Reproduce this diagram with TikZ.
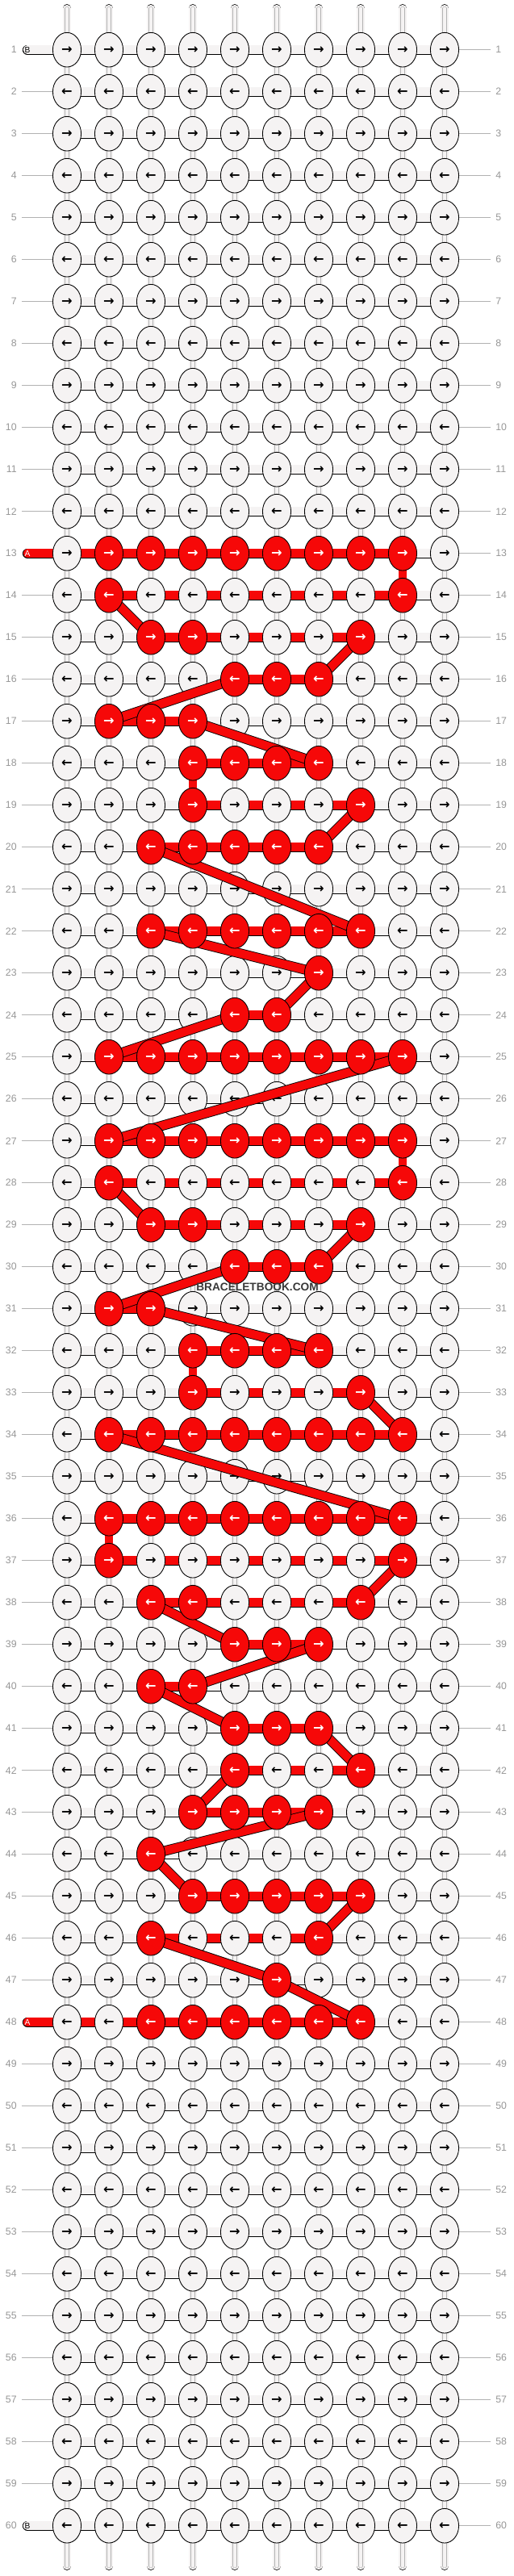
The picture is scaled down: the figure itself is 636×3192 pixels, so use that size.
\documentclass[tikz,border=0pt]{standalone}
\usepackage{fontspec}
\setmainfont{Liberation Sans}
\newfontfamily\arrowfont{DejaVu Sans}
\usetikzlibrary{shapes.geometric,backgrounds}

\pgfdeclarelayer{thread}
\pgfdeclarelayer{front}
\pgfsetlayers{background,main,thread,front}

\definecolor{knotred}{RGB}{246,8,8}
\definecolor{knotwhite}{RGB}{245,243,243}
\definecolor{rulegray}{RGB}{178,178,178}
\definecolor{numgray}{RGB}{150,150,150}

% red knots: row/first/last
\def\RedKnots{13/2/9,14/2/2,14/9/9,15/3/4,15/8/8,16/5/7,17/2/4,18/4/7,19/4/4,19/8/8,20/3/7,22/3/8,23/7/7,24/5/6,25/2/9,27/2/9,28/2/2,28/9/9,29/3/4,29/8/8,30/5/7,31/2/3,32/4/7,33/4/4,33/8/8,34/2/9,36/2/9,37/2/2,37/9/9,38/3/4,38/8/8,39/5/7,40/3/4,41/5/7,42/5/5,42/8/8,43/4/7,44/3/3,45/4/8,46/3/3,46/7/7,47/6/6,48/3/8}
% red links between knot c and c+1: row/first/last
\def\RedLinks{13/1/8,14/2/8,15/3/7,16/5/6,17/2/3,18/4/6,19/4/7,20/3/6,22/3/7,24/5/5,25/2/8,27/2/8,28/2/8,29/3/7,30/5/6,31/2/2,32/4/6,33/4/7,34/2/8,36/2/8,37/2/8,38/3/7,39/5/6,40/3/3,41/5/6,42/5/7,43/4/6,45/4/7,46/3/6,48/1/7}
% red links down to the next row: row/column
\def\RedDrops{13/9,18/4,27/9,32/4,36/2}
% red thread jumping between rows: row/col/row/col
\def\RedBars{14/2/15/3,15/8/16/7,16/5/17/2,17/4/18/7,19/8/20/7,20/3/22/8,22/3/23/7,23/7/24/6,24/5/25/2,25/9/27/2,28/2/29/3,29/8/30/7,30/5/31/2,31/3/32/7,33/8/34/9,34/2/36/9,37/9/38/8,38/3/39/5,39/7/40/4,40/3/41/5,41/7/42/8,42/5/43/4,43/7/44/3,44/3/45/4,45/8/46/7,46/3/47/6,47/6/48/8}

\foreach \r/\a/\b in \RedKnots {\foreach \c in {\a,...,\b} {\expandafter\gdef\csname redknot-\r-\c\endcsname{}}}

\tikzset{
    knot/.style={ellipse, draw, line width=0.5pt, fill=knotwhite, inner sep=0pt,
        minimum width=20pt, minimum height=24.3pt, font=\arrowfont\bfseries\fontsize{9.2}{9.2}\selectfont},
    redknot/.style={knot, fill=knotred, text=white},
    link/.style={line width=0.5pt, double=knotwhite, double distance=6pt},
    redlink/.style={link, double=knotred},
    drop/.style={line width=0.5pt, double=knotwhite, double distance=5.2pt,
        postaction={draw=rulegray, line width=0.3pt, double=knotwhite, double distance=2.4pt}},
    reddrop/.style={line width=0.5pt, double=knotred, double distance=5.2pt},
    tail/.style={drop, line cap=round},
    bar/.style={line width=0.5pt, double=knotred, double distance=6pt},
    num/.style={inner sep=0pt, text=numgray, font=\fontsize{7}{7}\selectfont},
    rule/.style={draw=rulegray, line width=0.5pt},
    tabtext/.style={inner sep=0pt, font=\fontsize{5.8}{6}\selectfont},
    wmark/.style={inner sep=0pt, text=black!78, font=\bfseries\fontsize{7.8}{8}\selectfont}
}

\begin{document}
\begin{tikzpicture}[x=0.02cm, y=-0.02cm]
    \useasboundingbox (0,0) rectangle (636,3192);
    % knots, the red ones on the front layer
    \foreach \r in {1,...,60} {
        \ifodd\r \def\arr{→}\else \def\arr{←}\fi
        \foreach \c in {1,...,10} {
            \ifcsname redknot-\r-\c\endcsname
                \begin{pgfonlayer}{front}
                    \node[redknot] (k-\r-\c) at ({83+52*(\c-1)}, {61.7+52*(\r-1)}) {\arr};
                \end{pgfonlayer}
            \else
                \node[knot] (k-\r-\c) at ({83+52*(\c-1)}, {61.7+52*(\r-1)}) {\arr};
            \fi
        }
        \node[num, anchor=east] (nl-\r) at (21, {61.7+52*(\r-1)}) {\r};
        \node[num, anchor=west] (nr-\r) at (614, {61.7+52*(\r-1)}) {\r};
    }
    \begin{pgfonlayer}{background}
        % links along the rows
        \foreach \r in {1,...,60} {
            \foreach \c [count=\n from 2] in {1,...,9} {
                \draw[link] (k-\r-\c.center) -- (k-\r-\n.center);
            }
        }
        \foreach \r/\a/\b in \RedLinks {
            \foreach \c in {\a,...,\b} {
                \pgfmathtruncatemacro\n{\c+1}
                \draw[redlink] (k-\r-\c.center) -- (k-\r-\n.center);
            }
        }
        % links down the columns
        \foreach \r [count=\n from 2] in {1,...,59} {
            \foreach \c in {1,...,10} {
                \draw[drop] (k-\r-\c.center) -- (k-\n-\c.center);
            }
        }
        \foreach \r/\c in \RedDrops {
            \pgfmathtruncatemacro\n{\r+1}
            \draw[reddrop] (k-\r-\c.center) -- (k-\n-\c.center);
        }
        % loose ends
        \foreach \c in {1,...,10} {
            \coordinate (top-\c) at ({83+52*(\c-1)}, 10.5);
            \coordinate (bot-\c) at ({83+52*(\c-1)}, 3179.5);
            \draw[tail] (top-\c) -- (k-1-\c.center);
            \draw[tail] (bot-\c) -- (k-60-\c.center);
        }
        % row rules
        \foreach \r in {1,...,60} {
            \draw[rule, shorten >=3.5pt] (k-\r-10.east) -- (nr-\r.west);
        }
        \foreach \r in {2,...,12,14,15,...,47,49,50,...,59} {
            \draw[rule, shorten <=3.3pt] (nl-\r.east) -- (k-\r-1.west);
        }
        % thread tabs
        \foreach \r/\l/\f/\t in {1/B/knotwhite/black,60/B/knotwhite/black,13/A/knotred/white,48/A/knotred/white} {
            \coordinate (tab-\r) at (34, {61.7+52*(\r-1)});
            \draw[link, double=\f, line cap=round] (tab-\r) -- (k-\r-1.center);
            \node[tabtext, text=\t] (tl-\r) at (34, {61.7+52*(\r-1)}) {\l};
        }
    \end{pgfonlayer}
    % red thread between rows
    \begin{pgfonlayer}{thread}
        \foreach \ra/\ca/\rb/\cb in \RedBars {
            \draw[bar] (k-\ra-\ca.center) -- (k-\rb-\cb.center);
        }
    \end{pgfonlayer}
    \begin{pgfonlayer}{front}
        \node[wmark] (site) at (319,1595) {BRACELETBOOK.COM};
    \end{pgfonlayer}
\end{tikzpicture}
\end{document}
